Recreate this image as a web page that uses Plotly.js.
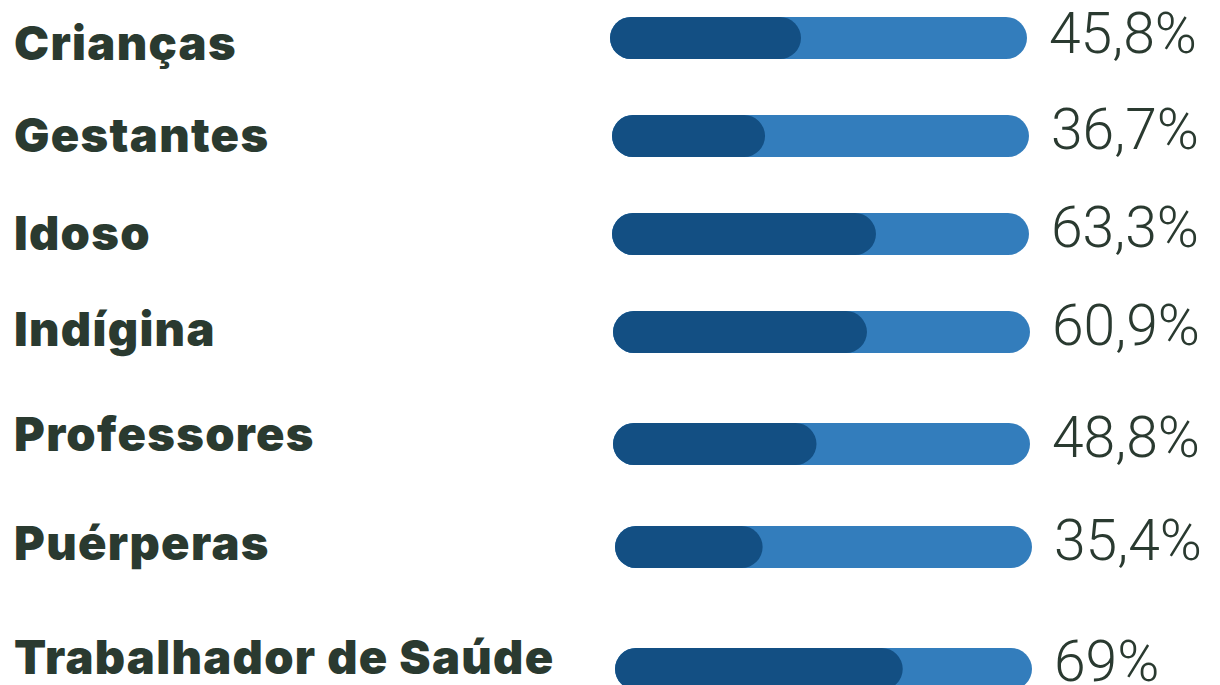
<!DOCTYPE html>
<html>
<head>
<meta charset="utf-8">
<script src="https://cdn.plot.ly/plotly-3.0.1.min.js"></script>
<style>
html,body{margin:0;padding:0;background:#fff;}
#chart{width:1220px;height:685px;}
</style>
</head>
<body>
<div id="chart"></div>
<script>
// Data
const categories = ["Crianças", "Gestantes", "Idoso", "Indígina", "Professores", "Puérperas", "Trabalhador de Saúde"];
const values = [45.8, 36.7, 63.3, 60.9, 48.8, 35.4, 69];
const valueLabels = ["45,8%", "36,7%", "63,3%", "60,9%", "48,8%", "35,4%", "69%"];
const maxValue = 100;

// Layout (pixel rows; y axis in pixels)
const rowY = [38, 136, 234, 332, 444, 547, 669];
const rowShiftPx = [-2, 0, 0, 1, 1, 3, 3];      // small horizontal nudges of each row
const labelDY = [4, -2, -2, -4, -11, -5, -13];
const valueDY = [-5, -7, -7, -7, -7, -7, -8];
const W = 1220, H = 685;
const barLeftPx = 612, barRightPx = 1029;
const pxPerUnit = (barRightPx - barLeftPx) / maxValue;
const darkColor = "#134f83";
const lightColor = "#337dbc";
const textColor = "#2a3a30";
const barThick = 42;
const radius = 21;
const labelSpacing = "1.3px";

const shiftUnits = rowShiftPx.map(p => p / pxPerUnit);

function pill(vals, color) {
  return {
    type: "bar", orientation: "h",
    y: rowY, base: shiftUnits, x: vals,
    width: barThick,
    marker: {color: color, cornerradius: radius, line: {width: 0}},
    hoverinfo: "skip", showlegend: false
  };
}

const traces = [
  pill(categories.map(() => maxValue), lightColor),
  pill(values, darkColor)
];

const annotations = [];
categories.forEach((c, i) => {
  annotations.push({
    xref: "paper", yref: "y", x: 12 / W, y: rowY[i] + labelDY[i],
    xanchor: "left", yanchor: "middle", showarrow: false,
    text: c,
    font: {family: "Inter, 'Open Sans', sans-serif", size: 47, weight: 900, color: textColor}
  });
  annotations.push({
    xref: "x", yref: "y", x: maxValue + shiftUnits[i], y: rowY[i] + valueDY[i],
    xanchor: "left", yanchor: "middle", showarrow: false, xshift: 20,
    text: valueLabels[i],
    font: {family: "Roboto, 'Liberation Sans', sans-serif", size: 57, weight: 300, color: textColor}
  });
});

const layout = {
  width: W, height: H,
  margin: {l: 0, r: 0, t: 0, b: 0},
  paper_bgcolor: "#ffffff", plot_bgcolor: "#ffffff",
  barmode: "overlay",
  xaxis: {domain: [0, 1], range: [-barLeftPx / pxPerUnit, (W - barLeftPx) / pxPerUnit], visible: false, fixedrange: true},
  yaxis: {range: [H, 0], visible: false, fixedrange: true},
  annotations: annotations,
  showlegend: false
};

Plotly.newPlot("chart", traces, layout, {displayModeBar: false, staticPlot: true}).then(() => {
  document.querySelectorAll(".annotation-text").forEach(t => {
    if (!t.textContent || /%/.test(t.textContent)) return;
    const b0 = t.getBBox();
    t.style.letterSpacing = labelSpacing;
    const b1 = t.getBBox();
    const dx = b0.x - b1.x;
    const prev = t.getAttribute("transform") || "";
    t.setAttribute("transform", prev + " translate(" + dx + ",0)");
  });
});
</script>
</body>
</html>
